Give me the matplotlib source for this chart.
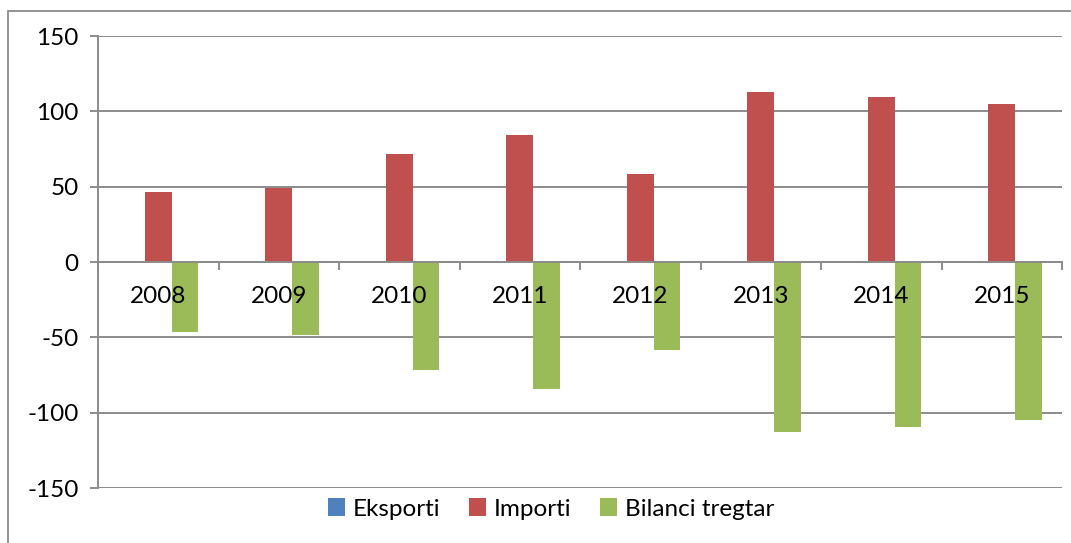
import matplotlib.pyplot as plt
import matplotlib.patches as mpatches
import matplotlib.transforms as mtransforms
import numpy as np

plt.rcParams['font.family'] = ['Lato', 'DejaVu Sans']
plt.rcParams['axes.unicode_minus'] = False

years = ['2008', '2009', '2010', '2011', '2012', '2013', '2014', '2015']
eksporti = [0, 0, 0, 0, 0, 0, 0, 0]
importi = [46.7, 48.8, 71.7, 84.3, 58.4, 112.6, 109.7, 105.1]
bilanci = [-46.7, -48.6, -71.7, -84.3, -58.4, -112.6, -109.5, -104.9]

fig = plt.figure(figsize=(10.71, 5.43), dpi=100)
ax = fig.add_axes([98/1071, 1-488/543, (1062-98)/1071, (488-36)/543])

# outer chart border (only top and left visible)
fig.patches.append(mpatches.Rectangle((8/1071, -0.1), 1.2, 1-11/543+0.1,
                                      transform=fig.transFigure, fill=False,
                                      edgecolor='#8a8a8a', linewidth=1.3))

x = np.arange(len(years))
w = 1/4.5
ax.bar(x - w, eksporti, w, color='#4F81BD', label='Eksporti')
ax.bar(x, importi, w, color='#C0504D', label='Importi')
ax.bar(x + w, bilanci, w, color='#9BBB59', label='Bilanci tregtar')

ax.set_xlim(-0.5, len(years) - 0.5)
ax.set_ylim(-150, 150)
ax.set_yticks(range(-150, 151, 50))
ax.yaxis.grid(True, color='#8c8c8c', linewidth=1.4)
ax.set_axisbelow(True)

for s in ['top', 'right']:
    ax.spines[s].set_visible(False)
ax.spines['bottom'].set_position(('data', 0))
ax.spines['bottom'].set_color('#8c8c8c')
ax.spines['bottom'].set_linewidth(1.4)
ax.spines['left'].set_color('#8c8c8c')
ax.spines['left'].set_linewidth(1.4)

# category labels sit on top of the bars, just under the zero line
ax.set_xticks(np.arange(len(years) + 1) - 0.5)
ax.set_xticklabels([])
ax.tick_params(axis='x', length=6, width=1.4, color='#8c8c8c', direction='out')
off = mtransforms.offset_copy(ax.transData, fig=fig, x=0, y=-34, units='dots')
for xi, lab in zip(x, years):
    ax.text(xi, 0, lab, transform=off, ha='center', va='center',
            fontsize=17.5, color='black', zorder=5)

ax.tick_params(axis='y', length=6, width=1.4, color='#8c8c8c', pad=8, labelsize=17.5)

fig.legend(loc='center', bbox_to_anchor=(551/1071, 1-509/543), ncol=3, frameon=False,
           fontsize=17.5, handlelength=0.7, handleheight=0.7, handletextpad=0.3,
           columnspacing=1.2)

fig.savefig('out.png', dpi=100)
